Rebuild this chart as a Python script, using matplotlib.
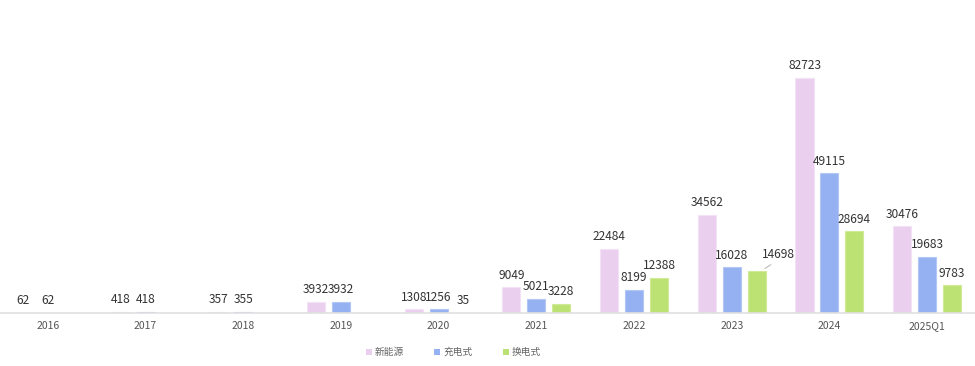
import matplotlib.pyplot as plt
import numpy as np
from matplotlib.patches import Patch

plt.rcParams["font.family"] = ["Noto Sans CJK SC", "DejaVu Sans"]

categories = ["2016", "2017", "2018", "2019", "2020", "2021", "2022", "2023", "2024", "2025Q1"]
new_energy = [62, 418, 357, 3932, 1308, 9049, 22484, 34562, 82723, 30476]
charging = [62, 418, 355, 3932, 1256, 5021, 8199, 16028, 49115, 19683]
swapping = [None, None, None, None, 35, 3228, 12388, 14698, 28694, 9783]

series = [
    ("新能源", new_energy, "#ebcfef", "#f3e2f5"),
    ("充电式", charging, "#95b1f1", "#b3c7f5"),
    ("换电式", swapping, "#bde274", "#d0eb98"),
]

fig = plt.figure(figsize=(9.75, 3.66), dpi=100)
ax = fig.add_axes([0.0, 0.145, 1.0, 0.80])

x = np.arange(len(categories))
step = 0.255
width = 0.185

for i, (name, vals, color, edge) in enumerate(series):
    xs = [xi + (i - 1) * step for xi, v in zip(x, vals) if v is not None]
    vs = [v for v in vals if v is not None]
    bars = ax.bar(xs, vs, width=width, color=color, edgecolor=edge, linewidth=0.8, zorder=2)
    for b, v in zip(bars, vs):
        cx = b.get_x() + b.get_width() / 2
        if name == "换电式" and v == 14698:
            # label pushed aside, with a short leader line
            ax.annotate("", xy=(cx + 0.06, v + 400), xytext=(cx + 0.17, v + 2800),
                        arrowprops=dict(arrowstyle="-", color="#bbbbbb", lw=0.8))
            ax.text(cx + 0.22, v + 3500, f"{v}", ha="center", va="bottom",
                    fontsize=8.6, color="#333333")
            continue
        ax.annotate(f"{v}", xy=(cx, v), xytext=(0, 4), textcoords="offset points",
                    ha="center", va="bottom", fontsize=8.6, color="#333333")

ax.set_xlim(-0.49, len(categories) - 0.51)
ax.set_ylim(0, 103000)
ax.set_xticks(x)
ax.set_xticklabels(categories, fontsize=7.5, color="#555555")
ax.tick_params(axis="x", length=0, pad=6)
ax.set_yticks([])
for side in ["top", "right", "left"]:
    ax.spines[side].set_visible(False)
ax.spines["bottom"].set_color("#e0e0e0")
ax.spines["bottom"].set_linewidth(1.2)
ax.patch.set_alpha(0)

handles = [Patch(facecolor=c, edgecolor="none", label=n) for n, _, c, _ in series]
fig.legend(handles=handles, loc="lower center", bbox_to_anchor=(0.465, 0.0), ncol=3,
           frameon=False, fontsize=7, handlelength=0.65, handleheight=0.65,
           handletextpad=0.3, columnspacing=3.1, labelcolor="#666666")

fig.savefig("out.png", dpi=100)
